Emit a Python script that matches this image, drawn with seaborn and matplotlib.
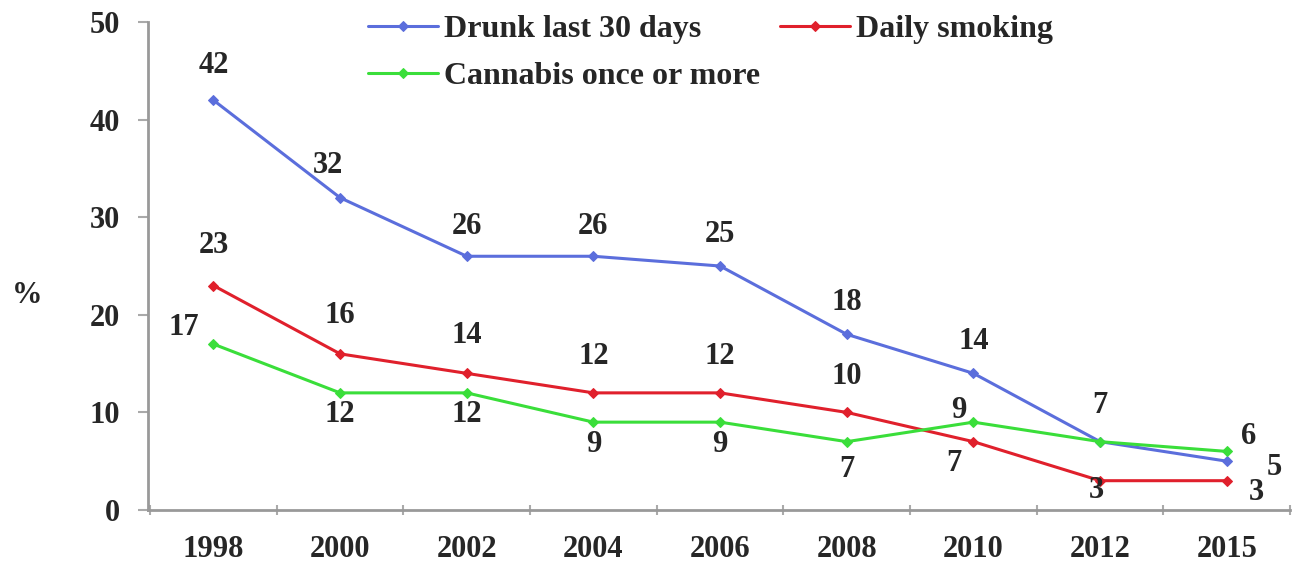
import pandas as pd
import matplotlib
matplotlib.use('Agg')
import matplotlib.pyplot as plt
import seaborn as sns

years = ['1998', '2000', '2002', '2004', '2006', '2008', '2010', '2012', '2015']
drunk = [42, 32, 26, 26, 25, 18, 14, 7, 5]
smoking = [23, 16, 14, 12, 12, 10, 7, 3, 3]
cannabis = [17, 12, 12, 9, 9, 7, 9, 7, 6]

names = ['Drunk last 30 days', 'Daily smoking', 'Cannabis once or more']
colors = ['#5B6EDC', '#E0202C', '#3ADE3A']

# label offsets in pixels (dx, dy), None = no label
offs = {
    'Drunk last 30 days': [(0, 35), (-12, 32), (0, 30), (0, 30), (0, 32), (0, 32), (0, 32), (0, 36), (48, -6)],
    'Daily smoking': [(0, 40), (0, 38), (0, 38), (0, 36), (0, 36), (0, 36), (-20, -22), (-4, -10), (30, -12)],
    'Cannabis once or more': [(-30, 17), (0, -22), (0, -22), (0, -22), (0, -22), (0, -28), (-15, 12), None, (22, 15)],
}

sns.set_style('white')
plt.rcParams['font.family'] = ['Liberation Serif', 'DejaVu Serif']
plt.rcParams['font.weight'] = 'bold'
FS = 22

df = pd.DataFrame({'pos': list(range(len(years))) * 3,
                   'value': drunk + smoking + cannabis,
                   'series': [n for n in names for _ in years]})

fig = plt.figure(figsize=(12.94, 5.66), dpi=100)
ax = fig.add_axes([0.114, 0.099, 0.883, 0.862])

for name, col in zip(names, colors):
    sub = df[df['series'] == name]
    sns.lineplot(data=sub, x='pos', y='value', ax=ax, color=col, lw=2.2,
                 marker='D', markersize=5, markeredgecolor=col, label=name)
    for (i, v), o in zip(enumerate(sub['value']), offs[name]):
        if o is None:
            continue
        ax.annotate(str(v), (i, v), xytext=o, textcoords='offset pixels',
                    ha='center', va='center', fontsize=FS, fontweight='bold')

ax.set_xlim(-0.52, 8.35)
ax.set_ylim(0, 50)
ax.set_yticks(range(0, 51, 10))
ax.set_xticks(range(len(years)))
ax.set_xticklabels(years)
ax.set_xticks([i + 0.5 for i in range(-1, len(years))], minor=True)
ax.tick_params(axis='x', which='both', bottom=True)
ax.tick_params(axis='x', which='major', length=0, pad=18, labelsize=FS)
ax.tick_params(axis='x', which='minor', length=7, width=1.5, color='#aaaaaa', direction='inout')
ax.tick_params(axis='y', left=True, length=7, width=1.5, color='#aaaaaa', pad=13,
               labelsize=FS, direction='out')
for t in ax.get_xticklabels() + ax.get_yticklabels():
    t.set_fontweight('bold')
ax.set_xlabel('')
ax.set_ylabel('%', rotation=0, fontsize=FS, fontweight='bold')
ax.yaxis.set_label_coords(-0.105, 0.41)
for s in ['top', 'right']:
    ax.spines[s].set_visible(False)
for s in ['left', 'bottom']:
    ax.spines[s].set_color('#999999')
    ax.spines[s].set_linewidth(2)

h, l = ax.get_legend_handles_labels()
ax.get_legend().remove()
order = [0, 2, 1]
fig.legend([h[i] for i in order], [l[i] for i in order], ncol=2, frameon=False,
           loc='upper left', bbox_to_anchor=(0.262, 1.025),
           handlelength=2.2, handletextpad=0.2, columnspacing=0.6, labelspacing=0.55,
           prop={'weight': 'bold', 'size': 23})

fig.savefig('out.png', dpi=100)
